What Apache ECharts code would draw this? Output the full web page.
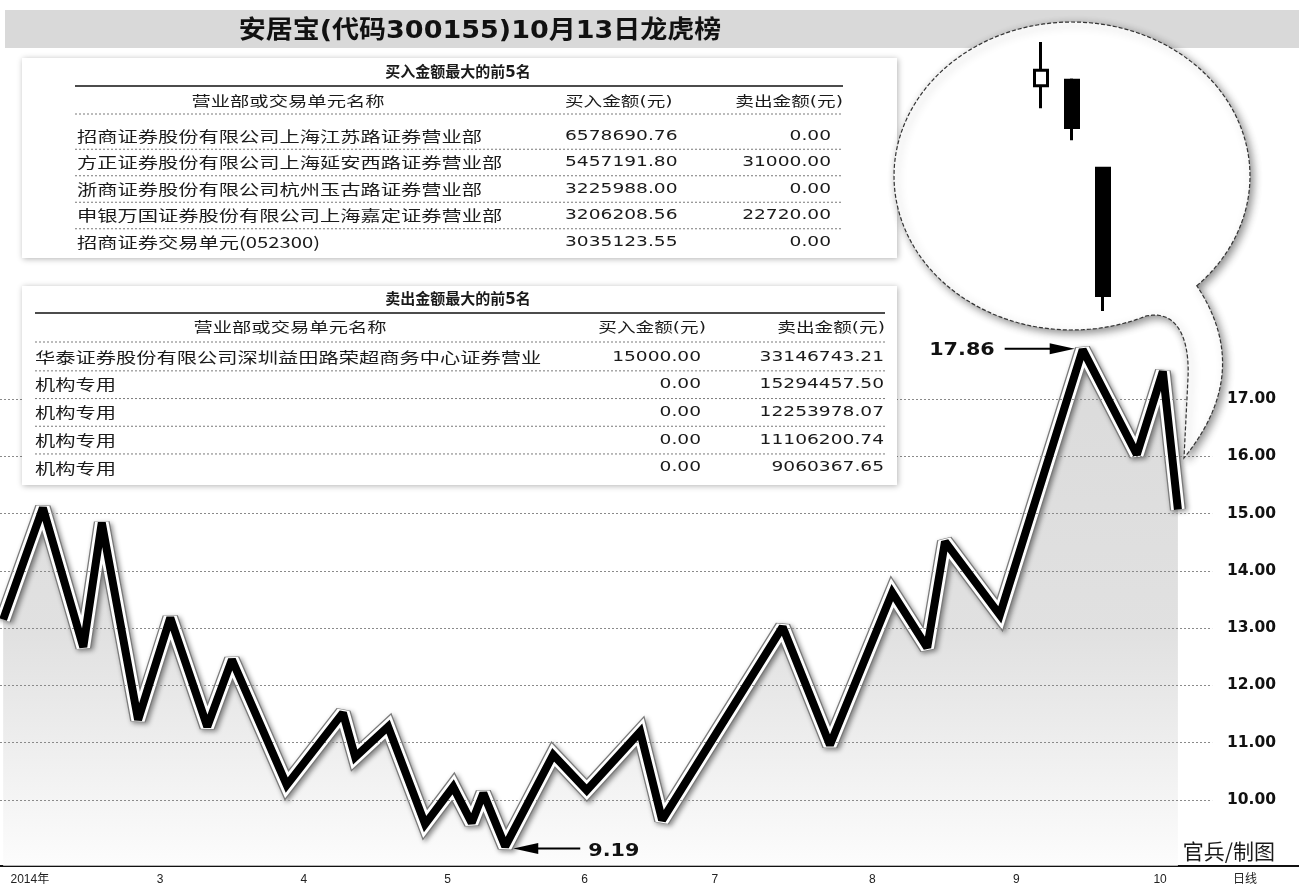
<!DOCTYPE html>
<html><head><meta charset="utf-8">
<script src="https://cdn.jsdelivr.net/npm/echarts@6/dist/echarts.min.js"></script>
<style>html,body{margin:0;padding:0;background:#fff;}#c{width:1299px;height:894px;}</style>
</head><body><div id="c"></div>
<script>
// ---------- data ----------
const titleText = '安居宝(代码300155)10月13日龙虎榜';
// trading-day index (0 = first trading day of March 2014) of each turning point
const tradeDay = [-22.9, -17.1, -11.2, -8.5, -3.2, 1.5, 6.9, 10.5, 18.5, 26.7, 28.5, 33.3, 38.7, 42.8, 45.5, 47.2, 50.4, 57.4, 62.3, 70.1, 73.3, 90.9, 97.8, 106.9, 112.0, 114.6, 122.6, 134.7, 142.6, 146.4, 148.6];
const closePrice = [13.15, 15.10, 12.67, 14.84, 11.40, 13.18, 11.28, 12.45, 10.26, 11.52, 10.75, 11.28, 9.58, 10.23, 9.60, 10.12, 9.19, 10.79, 10.17, 11.19, 9.65, 13.02, 10.96, 13.62, 12.66, 14.51, 13.23, 17.86, 16.03, 17.48, 15.07];
const yTicks = [10, 11, 12, 13, 14, 15, 16, 17];
const xTickPos = [-19, 0, 21, 42, 62, 81, 104, 125, 146, 158.4];
const xTickLabels = ['2014年', '3', '4', '5', '6', '7', '8', '9', '10', '日线'];
const candleDays = ['10-09', '10-10', '10-13'];
const candleOHLC = [[17.38, 17.55, 17.13, 17.86], [17.44, 16.92, 16.78, 17.46], [16.47, 15.07, 14.90, 16.47]];
const buyTitle = '买入金额最大的前5名';
const sellTitle = '卖出金额最大的前5名';
const colHeaders = ['营业部或交易单元名称', '买入金额(元)', '卖出金额(元)'];
const buyNames = ['招商证券股份有限公司上海江苏路证券营业部', '方正证券股份有限公司上海延安西路证券营业部', '浙商证券股份有限公司杭州玉古路证券营业部', '申银万国证券股份有限公司上海嘉定证券营业部', '招商证券交易单元(052300)'];
const buyBuy = ['6578690.76', '5457191.80', '3225988.00', '3206208.56', '3035123.55'];
const buySell = ['0.00', '31000.00', '0.00', '22720.00', '0.00'];
const sellNames = ['华泰证券股份有限公司深圳益田路荣超商务中心证券营业', '机构专用', '机构专用', '机构专用', '机构专用'];
const sellBuy = ['15000.00', '0.00', '0.00', '0.00', '0.00'];
const sellSell = ['33146743.21', '15294457.50', '12253978.07', '11106200.74', '9060367.65'];
const creditText = '官兵/制图';

// ---------- chart ----------
const chart = echarts.init(document.getElementById('c'), null, {renderer: 'canvas'});
const lineData = tradeDay.map((d, i) => [d, closePrice[i]]);
const X_MIN = -23.36, X_MAX = 166.28, GRID_END = 153.6;

const fontCJK = '"Noto Sans CJK SC"';
const fontNum = '"DejaVu Sans", "Noto Sans CJK SC"';

function txt(x, y, text, font, align, sx, z, fill) {
  return {type: 'text', x: x, y: y, scaleX: sx || 1, z: z || 12,
    style: {text: text, font: font, fill: fill || '#1a1a1a', textAlign: align || 'left', textVerticalAlign: 'middle'}};
}
function hline(x1, x2, y, dashed, z, w) {
  return {type: 'line', z: z || 12, shape: {x1: x1, y1: y, x2: x2, y2: y},
    style: {stroke: dashed ? '#7a7a7a' : '#111', lineWidth: w || 1, lineDash: dashed ? [2, 2] : null}};
}

function buildTable(cfg) {
  const els = [];
  els.push({type: 'rect', z: 10, shape: {x: cfg.box[0], y: cfg.box[1], width: cfg.box[2], height: cfg.box[3]},
    style: {fill: '#fff', shadowBlur: 6, shadowColor: 'rgba(0,0,0,0.3)', shadowOffsetX: 1, shadowOffsetY: 1}});
  els.push(txt(cfg.titleX, cfg.titleY, cfg.title, 'bold 15px ' + fontNum, 'center', 1));
  els.push(hline(cfg.ruleX[0], cfg.ruleX[1], cfg.ruleY, false, 12, 1.6));
  els.push(txt(cfg.hdrX[0], cfg.hdrY, colHeaders[0], '14px ' + fontNum, 'center', 1.38));
  els.push(txt(cfg.hdrX[1], cfg.hdrY, colHeaders[1], '14px ' + fontNum, cfg.hdrAlign[1], 1.33));
  els.push(txt(cfg.hdrX[2], cfg.hdrY, colHeaders[2], '14px ' + fontNum, 'right', 1.33));
  els.push(hline(cfg.ruleX[0], cfg.ruleX[1], cfg.hdrLineY, true));
  for (let i = 0; i < 5; i++) {
    const y = cfg.row0 + i * cfg.pitch;
    els.push(txt(cfg.colX[0], y, cfg.names[i], '15px ' + fontCJK, 'left', 1.35));
    els.push(txt(cfg.colX[1], y, cfg.c2[i], '14px ' + fontNum, cfg.c2Align, 1.33));
    els.push(txt(cfg.colX[2], y, cfg.c3[i], '14px ' + fontNum, 'right', 1.33));
    if (i < 4) els.push(hline(cfg.ruleX[0], cfg.ruleX[1], y + cfg.pitch / 2, true));
  }
  return els;
}

const table1 = buildTable({box: [22, 58, 875, 200], title: buyTitle, titleX: 458, titleY: 73,
  ruleX: [75, 843], ruleY: 86, hdrX: [288, 565, 843], hdrAlign: [null, 'left'], hdrY: 102, hdrLineY: 114,
  row0: 136, pitch: 26.5, colX: [77, 565, 831], c2Align: 'left', names: buyNames, c2: buyBuy, c3: buySell});
const table2 = buildTable({box: [22, 286, 875, 199], title: sellTitle, titleX: 458, titleY: 300,
  ruleX: [35, 885], ruleY: 313, hdrX: [290, 706, 885], hdrAlign: [null, 'right'], hdrY: 328, hdrLineY: 342,
  row0: 357, pitch: 27.7, colX: [35, 701, 884], c2Align: 'right', names: sellNames, c2: sellBuy, c3: sellSell});

// speech-bubble outline (decoration): ellipse + tail, sampled into a polygon
function bubblePoints() {
  const cx = 1072, cy = 176, rx = 178, ry = 154;
  const B = [1197, 286], A = [1147, 316];
  const aB = Math.atan2((B[1] - cy) / ry, (B[0] - cx) / rx);
  let aA = Math.atan2((A[1] - cy) / ry, (A[0] - cx) / rx) - 2 * Math.PI;
  const pts = [];
  const n = 160;
  for (let i = 0; i <= n; i++) {
    const a = aB + (aA - aB) * i / n;
    pts.push([cx + rx * Math.cos(a), cy + ry * Math.sin(a)]);
  }
  // inner edge of the tail (cubic)
  const c1 = [1175, 310], c2 = [1190, 335], E = [1188, 378];
  for (let i = 1; i <= 30; i++) {
    const t = i / 30, u = 1 - t;
    pts.push([u*u*u*A[0] + 3*u*u*t*c1[0] + 3*u*t*t*c2[0] + t*t*t*E[0],
              u*u*u*A[1] + 3*u*u*t*c1[1] + 3*u*t*t*c2[1] + t*t*t*E[1]]);
  }
  const tip = [1184, 458];
  pts.push(tip);
  // outer edge of the tail (quadratic back to B)
  const q = [1254, 372];
  for (let i = 1; i <= 30; i++) {
    const t = i / 30, u = 1 - t;
    pts.push([u*u*tip[0] + 2*u*t*q[0] + t*t*B[0], u*u*tip[1] + 2*u*t*q[1] + t*t*B[1]]);
  }
  return pts;
}

const lineJoin = {join: 'miter', miterLimit: 2.2};

const option = {
  animation: false,
  backgroundColor: '#fff',
  grid: [
    {left: 0, right: 0, top: 313, bottom: 28},
    {left: 1025.5, width: 93, top: 29.3, height: 318.1}
  ],
  xAxis: [
    {type: 'value', min: X_MIN, max: X_MAX,
      axisLine: {lineStyle: {color: '#111', width: 2}}, axisTick: {show: false}, splitLine: {show: false},
      axisLabel: {customValues: xTickPos, formatter: v => { const k = xTickPos.indexOf(v); return k >= 0 ? xTickLabels[k] : ''; },
        fontSize: 12, color: '#222', margin: 8, fontFamily: '"Liberation Sans", "Noto Sans CJK SC"'}},
    {gridIndex: 1, type: 'category', data: candleDays, show: false}
  ],
  yAxis: [
    {type: 'value', position: 'right', min: 8.848, max: 18.5,
      axisLine: {show: false}, axisTick: {show: false}, splitLine: {show: false},
      axisLabel: {inside: true, margin: 23, customValues: yTicks, formatter: v => v.toFixed(2),
        color: '#111', fontWeight: 'bold', fontSize: 15.5, fontFamily: 'DejaVu Sans'}},
    {gridIndex: 1, type: 'value', min: 14.5, max: 18, show: false}
  ],
  series: [
    {type: 'line', data: lineData, symbol: 'none', z: 2, lineStyle: {width: 0, opacity: 0},
      areaStyle: {origin: 'start', color: new echarts.graphic.LinearGradient(0, 0, 0, 1, [
        {offset: 0, color: '#cbcbcb'}, {offset: 0.55, color: '#d4d4d4'}, {offset: 1, color: '#fbfbfb'}])},
      markLine: {silent: true, symbol: ['none', 'none'], label: {show: false},
        lineStyle: {color: '#8a8a8a', type: [2, 2], width: 1},
        data: yTicks.map(v => [{coord: [X_MIN, v]}, {coord: [GRID_END, v]}])}},
    {type: 'line', data: lineData, symbol: 'none', z: 3,
      lineStyle: Object.assign({width: 16, color: '#7a7a7a', shadowBlur: 5, shadowColor: 'rgba(0,0,0,0.45)', shadowOffsetX: 2, shadowOffsetY: 2}, lineJoin)},
    {type: 'line', data: lineData, symbol: 'none', z: 4,
      lineStyle: Object.assign({width: 13.5, color: '#fff'}, lineJoin)},
    {type: 'line', data: lineData, symbol: 'none', z: 5,
      lineStyle: Object.assign({width: 8, color: '#000'}, lineJoin)},
    {type: 'candlestick', xAxisIndex: 1, yAxisIndex: 1, data: candleOHLC, barWidth: 14, z: 20,
      itemStyle: {color: '#fff', color0: '#000', borderColor: '#000', borderColor0: '#000', borderWidth: 3}}
  ]
};
chart.setOption(option);

// annotations placed from the data through the chart's own scales
let iMax = 0, iMin = 0;
closePrice.forEach((v, i) => { if (v > closePrice[iMax]) iMax = i; if (v < closePrice[iMin]) iMin = i; });
const pMax = chart.convertToPixel({xAxisIndex: 0, yAxisIndex: 0}, [tradeDay[iMax], closePrice[iMax]]);
const pMin = chart.convertToPixel({xAxisIndex: 0, yAxisIndex: 0}, [tradeDay[iMin], closePrice[iMin]]);

const tipMax = [pMax[0] - 8, pMax[1] - 1];
const tipMin = [pMin[0] + 8, pMin[1] + 2];

const graphics = [
  {type: 'rect', z: 0, shape: {x: 5, y: 10, width: 1294, height: 38}, style: {fill: '#d9d9d9'}},
  {type: 'text', x: 480, y: 31, scaleX: 1.08, z: 1,
    style: {text: titleText, font: 'bold 25px "DejaVu Sans", "Noto Sans CJK SC"', fill: '#111', textAlign: 'center', textVerticalAlign: 'middle'}},
  ...table1, ...table2,
  {type: 'polygon', z: 15, shape: {points: bubblePoints()},
    style: {fill: '#fff', stroke: '#333', lineWidth: 1.2, lineDash: [4, 2], shadowBlur: 8, shadowColor: 'rgba(0,0,0,0.45)', shadowOffsetX: 3, shadowOffsetY: 3}},
  // max arrow
  {type: 'line', z: 16, shape: {x1: tipMax[0] - 70, y1: tipMax[1], x2: tipMax[0] - 20, y2: tipMax[1]}, style: {stroke: '#000', lineWidth: 2}},
  {type: 'polygon', z: 16, shape: {points: [[tipMax[0], tipMax[1]], [tipMax[0] - 25, tipMax[1] - 5.5], [tipMax[0] - 25, tipMax[1] + 5.5]]}, style: {fill: '#000'}},
  {type: 'text', x: tipMax[0] - 80, y: tipMax[1] + 2, scaleX: 1.15, z: 16,
    style: {text: closePrice[iMax].toFixed(2), font: 'bold 18px "DejaVu Sans"', fill: '#111', textAlign: 'right', textVerticalAlign: 'middle'}},
  // min arrow
  {type: 'line', z: 16, shape: {x1: tipMin[0] + 20, y1: tipMin[1], x2: tipMin[0] + 67, y2: tipMin[1]}, style: {stroke: '#000', lineWidth: 2}},
  {type: 'polygon', z: 16, shape: {points: [[tipMin[0], tipMin[1]], [tipMin[0] + 25, tipMin[1] - 5.5], [tipMin[0] + 25, tipMin[1] + 5.5]]}, style: {fill: '#000'}},
  {type: 'text', x: tipMin[0] + 75, y: tipMin[1] + 3, scaleX: 1.15, z: 16,
    style: {text: closePrice[iMin].toFixed(2), font: 'bold 18px "DejaVu Sans"', fill: '#111', textAlign: 'left', textVerticalAlign: 'middle'}},
  // credit
  {type: 'text', x: 1275, y: 851, z: 16,
    style: {text: creditText, font: '21px "Noto Sans CJK SC"', fill: '#1a1a1a', textAlign: 'right', textVerticalAlign: 'middle'}}
];
chart.setOption({graphic: graphics});
</script>
</body></html>
